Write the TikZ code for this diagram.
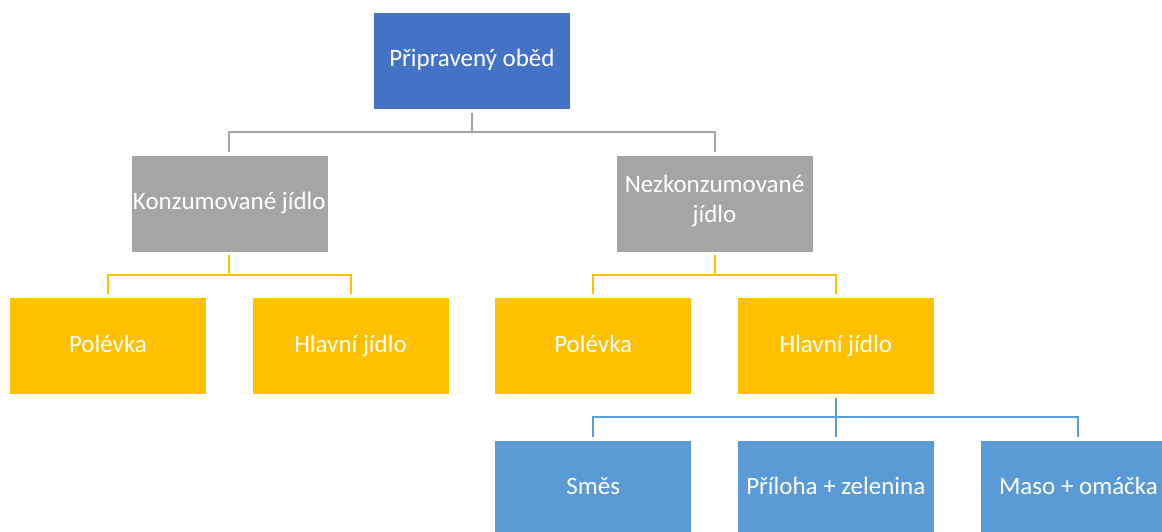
\documentclass[tikz,border=0pt]{standalone}
\usepackage{fontspec}
\setmainfont{Carlito}
\usepackage{tikz}
\usetikzlibrary{positioning, calc}

\definecolor{obedblue}{HTML}{4472C4}
\definecolor{jidlogray}{HTML}{A5A5A5}
\definecolor{chodyellow}{HTML}{FFC000}
\definecolor{slozkablue}{HTML}{5B9BD5}

\begin{document}
\begin{tikzpicture}[x=1pt, y=-1pt, node distance=45pt,
  font=\fontsize{25}{30}\selectfont,
  box/.style={draw=white, line width=0.6pt, text=white, minimum width=197pt, minimum height=97pt, inner sep=1pt, align=center,
    execute at begin node=\strut, execute at end node=\strut},
  link/.style={line width=2pt, shorten <=3pt, shorten >=3pt}]
\useasboundingbox (0,0) rectangle (1162,532);
\clip (0,0) rectangle (1162,532);
\node[box, fill=chodyellow] (pol1) at (108,346) {Polévka};
\node[box, fill=chodyellow, right=of pol1] (hlavni1) {Hlavní jídlo};
\node[box, fill=chodyellow, right=of hlavni1] (pol2) {Polévka};
\node[box, fill=chodyellow, right=of pol2] (hlavni2) {Hlavní jídlo};
\node[box, fill=slozkablue, below=of pol2] (smes) {Směs};
\node[box, fill=slozkablue, right=of smes] (priloha) {Příloha + zelenina};
\node[box, fill=slozkablue, right=of priloha] (maso) {Maso + omáčka};
\coordinate (m1) at ($(pol1.north)!0.5!(hlavni1.north)$);
\coordinate (m2) at ($(pol2.north)!0.5!(hlavni2.north)$);
\node[box, fill=jidlogray, above=of m1] (konz) {Konzumované jídlo};
\node[box, fill=jidlogray, above=of m2] (nekonz) {Nezkonzumované\\jídlo};
\coordinate (m3) at ($(konz.north)!0.5!(nekonz.north)$);
\node[box, fill=obedblue, above=of m3] (obed) {Připravený oběd};
\draw[link, jidlogray] (obed.south) -- ++(0,22.5) -| (konz.north);
\draw[link, jidlogray] (obed.south) -- ++(0,22.5) -| (nekonz.north);
\draw[link, chodyellow] (konz.south) -- ++(0,22.5) -| (pol1.north);
\draw[link, chodyellow] (konz.south) -- ++(0,22.5) -| (hlavni1.north);
\draw[link, chodyellow] (nekonz.south) -- ++(0,22.5) -| (pol2.north);
\draw[link, chodyellow] (nekonz.south) -- ++(0,22.5) -| (hlavni2.north);
\draw[link, slozkablue] (hlavni2.south) -- ++(0,22.5) -| (smes.north);
\draw[link, slozkablue] (hlavni2.south) -- (priloha.north);
\draw[link, slozkablue] (hlavni2.south) -- ++(0,22.5) -| (maso.north);
\end{tikzpicture}
\end{document}
